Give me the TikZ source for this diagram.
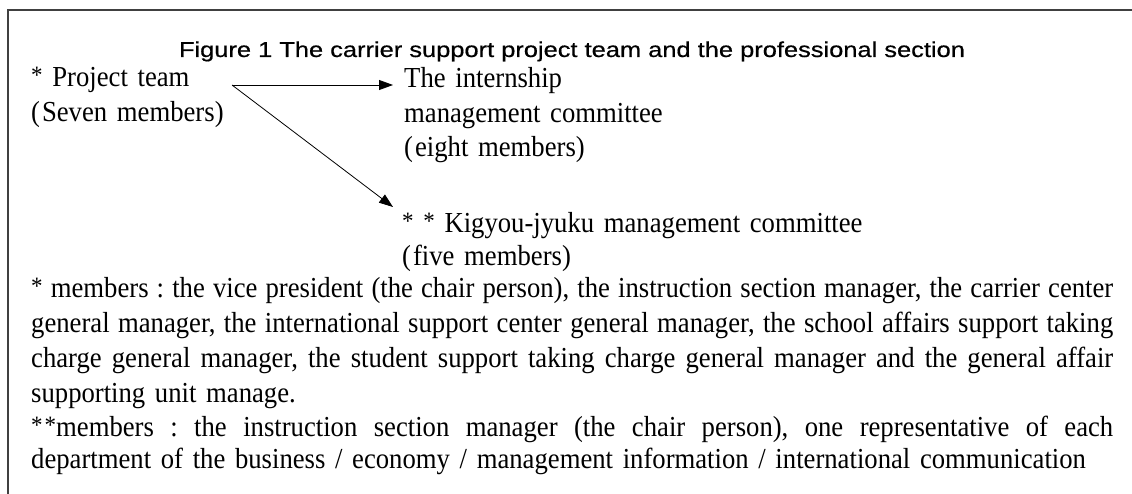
\documentclass[tikz,border=0pt]{standalone}
\usepackage{fontspec}
\setmainfont{Liberation Serif}[FakeStretch=0.92]
\newfontfamily\titlefont{Liberation Sans}[FakeBold=0.5]
\usetikzlibrary{arrows.meta}
\newcommand\myast[1]{\raisebox{3pt}{\fontsize{25}{25}\selectfont #1}}
\newcommand\fullline[1]{\leavevmode\hbox to 1082pt{\spaceskip=0.25em plus 3em minus 0.05em\relax #1}}
\begin{document}
\frenchspacing
\begin{tikzpicture}[x=1pt,y=-1pt,
  txt/.style={anchor=base west,inner sep=0pt,text width=760pt,align=left,
    font=\fontsize{29}{34.5}\selectfont},
  para/.style={anchor=base west,inner sep=0pt,text width=1082pt,align=left,
    font=\fontsize{29}{34.75}\selectfont},
  arr/.style={-{Triangle[length=14pt,width=10pt]},line width=0.8pt},
  frame/.style={line width=1.4pt,draw=black!75}]
\useasboundingbox (0,0) rectangle (1132,494);
\draw[frame] (8,494) -- (8,10) -- (1132,10);
\node[anchor=base,inner sep=0pt,font=\titlefont\fontsize{21.5}{25}\selectfont] (title) at (572,57)
  {\scalebox{1.183}[1]{Figure 1 The carrier support project team and the professional section}};
\node[txt] (team) at (31,87) {\myast{*} Project team\\(\kern2pt Seven members)};
\node[txt] (intern) at (404,88) {The internship\\management committee\\(\kern2pt eight members)};
\node[txt] (kigyou) at (402,233) {\myast{* *} Kigyou-jyuku management committee\\[-2pt](\kern2pt five members)};
\coordinate (src) at (232,85);
\coordinate (tipA) at (393,85);
\coordinate (tipB) at (393,207);
\draw[arr] (src) -- (tipA);
\draw[arr] (src) -- (tipB);
\node[para] (notes) at (31,298) {%
\fullline{\myast{*} members : the vice president (the chair person), the instruction section manager, the carrier center}\\
\fullline{general manager, the international support center general manager, the school affairs support taking}\\
\fullline{charge general manager, the student support taking charge general manager and the general affair}\\
supporting unit manage.\\
\fullline{\myast{*\kern2pt*}members : the instruction section manager (the chair person), one representative of each}\\[-3pt]
department of the business / economy / management information / international communication};
\end{tikzpicture}
\end{document}
